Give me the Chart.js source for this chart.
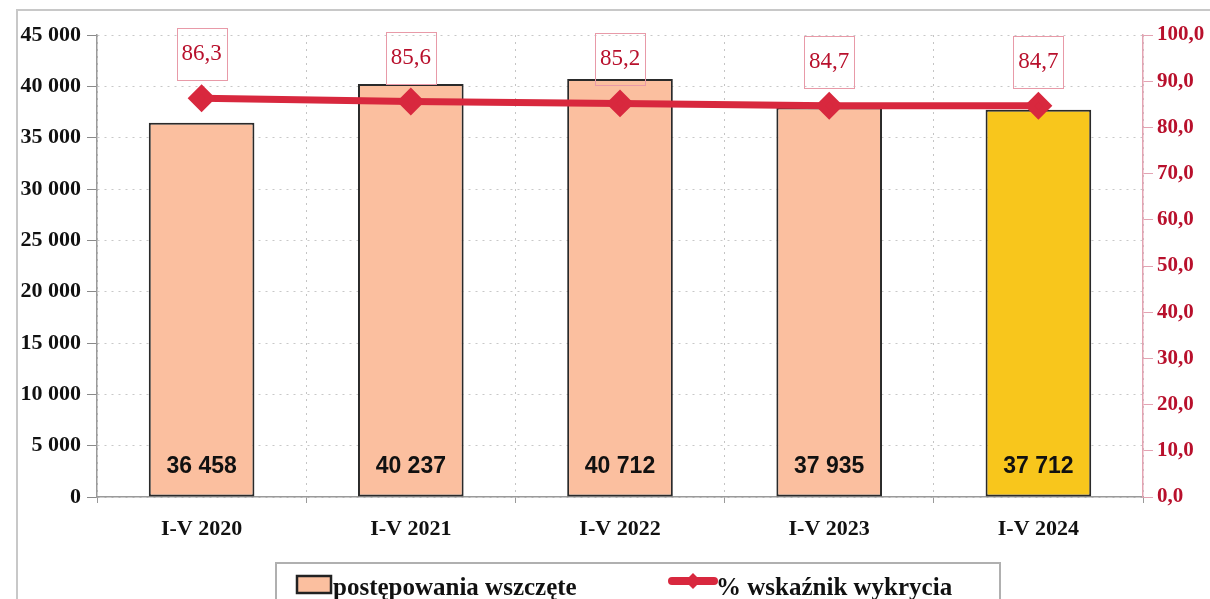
<!DOCTYPE html>
<html lang="pl">
<head>
  <meta charset="UTF-8" />
  <title>Postępowania wszczęte</title>
  <script src="https://cdn.jsdelivr.net/npm/chart.js"></script>
  <style>
    html, body { margin: 0; padding: 0; background: #fff; }
    #wrap { width: 1210px; height: 599px; position: relative; }
  </style>
</head>
<body>
  <div id="wrap"><canvas id="chart" width="1210" height="599"></canvas></div>

  <script>
    const labels = ['I-V 2020', 'I-V 2021', 'I-V 2022', 'I-V 2023', 'I-V 2024'];
    const cases = [36458, 40237, 40712, 37935, 37712];
    const detection = [86.3, 85.6, 85.2, 84.7, 84.7];
    const barColors = ['#fbbf9f', '#fbbf9f', '#fbbf9f', '#fbbf9f', '#f8c61c'];

    const serif = '"Liberation Serif", "Times New Roman", serif';
    const sans = '"Liberation Sans", Arial, sans-serif';
    const red = '#b8102c';
    const lineRed = '#d8283e';

    const fmtThousands = v => String(v).replace(/\B(?=(\d{3})+(?!\d))/g, ' ');
    const fmtDec = v => v.toFixed(1).replace('.', ',');

    // labels on the bars and boxes above the line points
    const valueLabels = {
      id: 'valueLabels',
      afterDatasetsDraw(chart) {
        const ctx = chart.ctx;
        const yScale = chart.scales.y;
        ctx.save();
        chart.getDatasetMeta(0).data.forEach((bar, i) => {
          ctx.font = 'bold 23px ' + sans;
          ctx.fillStyle = '#111';
          ctx.textAlign = 'center';
          ctx.textBaseline = 'middle';
          ctx.fillText(fmtThousands(cases[i]), bar.x, yScale.bottom - 30);
        });
        chart.getDatasetMeta(1).data.forEach((pt, i) => {
          const cy = pt.y - 44;
          ctx.strokeStyle = '#e89aa8';
          ctx.lineWidth = 1;
          ctx.strokeRect(Math.round(pt.x - 25) + 0.5, Math.round(cy - 26) + 0.5, 50, 52);
          ctx.font = '23px ' + serif;
          ctx.fillStyle = red;
          ctx.textAlign = 'center';
          ctx.textBaseline = 'middle';
          ctx.fillText(fmtDec(detection[i]), pt.x, cy);
        });
        ctx.restore();
      }
    };

    // outer frame and the boxed legend
    const frameLegend = {
      id: 'frameLegend',
      afterDraw(chart) {
        const ctx = chart.ctx;
        ctx.save();
        ctx.strokeStyle = '#c8c8c8';
        ctx.lineWidth = 2;
        ctx.strokeRect(17, 10, 1220, 620);

        ctx.strokeStyle = '#b0b0b0';
        ctx.lineWidth = 2;
        ctx.strokeRect(276, 563, 724, 50);

        ctx.fillStyle = '#fbbf9f';
        ctx.fillRect(297, 576, 34, 17);
        ctx.strokeStyle = '#222';
        ctx.lineWidth = 2.5;
        ctx.strokeRect(297, 576, 34, 17);

        ctx.font = 'bold 25px ' + serif;
        ctx.fillStyle = '#111';
        ctx.textAlign = 'left';
        ctx.textBaseline = 'alphabetic';
        ctx.fillText('postępowania wszczęte', 333, 595);

        ctx.strokeStyle = lineRed;
        ctx.lineWidth = 8;
        ctx.lineCap = 'round';
        ctx.beginPath();
        ctx.moveTo(672, 581);
        ctx.lineTo(714, 581);
        ctx.stroke();
        ctx.fillStyle = lineRed;
        ctx.beginPath();
        ctx.moveTo(693, 573);
        ctx.lineTo(701, 581);
        ctx.lineTo(693, 589);
        ctx.lineTo(685, 581);
        ctx.closePath();
        ctx.fill();

        ctx.fillStyle = '#111';
        ctx.fillText('% wskaźnik wykrycia', 716, 595);
        ctx.restore();
      }
    };

    new Chart(document.getElementById('chart'), {
      data: {
        labels: labels,
        datasets: [
          {
            type: 'bar',
            label: 'postępowania wszczęte',
            data: cases,
            backgroundColor: barColors,
            borderColor: '#2a2a2a',
            borderWidth: 2,
            borderSkipped: false,
            categoryPercentage: 1,
            barPercentage: 0.505,
            yAxisID: 'y',
            order: 2
          },
          {
            type: 'line',
            label: '% wskaźnik wykrycia',
            data: detection,
            borderColor: lineRed,
            backgroundColor: lineRed,
            borderWidth: 7,
            pointStyle: 'rectRot',
            pointRadius: 9,
            pointHoverRadius: 9,
            tension: 0,
            yAxisID: 'y1',
            order: 1
          }
        ]
      },
      options: {
        responsive: false,
        animation: false,
        events: [],
        layout: { padding: { top: 35, bottom: 52, left: 0, right: 0 } },
        plugins: {
          legend: { display: false },
          tooltip: { enabled: false }
        },
        scales: {
          x: {
            offset: true,
            afterFit: s => { s.height = 50; },
            grid: {
              offset: true,
              color: '#c4c4c4',
              tickColor: '#9a9a9a',
              tickLength: 6,
              tickBorderDash: []
            },
            border: { display: true, color: '#9a9a9a', width: 1.5, dash: [2, 5] },
            ticks: {
              color: '#111',
              font: { family: serif, size: 22, weight: 'bold' },
              padding: 13
            }
          },
          y: {
            position: 'left',
            min: 0,
            max: 45000,
            afterFit: s => { s.width = 97; },
            grid: {
              color: '#c8c8c8',
              tickColor: '#8a8a8a',
              tickLength: 10,
              tickBorderDash: []
            },
            border: { display: true, color: '#9a9a9a', width: 1.5, dash: [2, 5] },
            ticks: {
              stepSize: 5000,
              color: '#111',
              padding: 6,
              font: { family: serif, size: 22, weight: 'bold' },
              callback: v => fmtThousands(v)
            }
          },
          y1: {
            position: 'right',
            min: 0,
            max: 100,
            afterFit: s => { s.width = 67; },
            grid: {
              drawOnChartArea: false,
              tickColor: '#e3a3b2',
              tickLength: 10
            },
            border: { display: true, color: '#e3a3b2', width: 1.5 },
            ticks: {
              stepSize: 10,
              color: red,
              padding: 4,
              font: { family: serif, size: 21, weight: 'bold' },
              callback: v => fmtDec(v)
            }
          }
        }
      },
      plugins: [valueLabels, frameLegend]
    });
  </script>
</body>
</html>
